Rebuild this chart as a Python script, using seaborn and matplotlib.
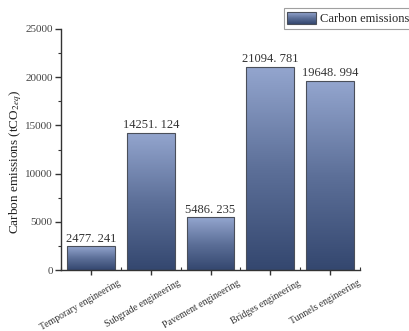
import numpy as np
import pandas as pd
import matplotlib
matplotlib.use("Agg")
import matplotlib.pyplot as plt
import seaborn as sns
from matplotlib.colors import LinearSegmentedColormap
from matplotlib.legend_handler import HandlerBase
from matplotlib.image import BboxImage
from matplotlib.transforms import Bbox, TransformedBbox, ScaledTranslation
from matplotlib.patches import Rectangle, Patch
from matplotlib.ticker import MultipleLocator

categories = ["Temporary engineering", "Subgrade engineering", "Pavement engineering",
              "Bridges engineering", "Tunnels engineering"]
emissions = [2477.241, 14251.124, 5486.235, 21094.781, 19648.994]
y_ticks = [0, 5000, 10000, 15000, 20000, 25000]
series_name = "Carbon emissions"

df = pd.DataFrame({"category": categories, "value": emissions})

sns.set_theme(style="ticks")
plt.rcParams["font.family"] = ["Liberation Serif", "DejaVu Serif"]
plt.rcParams["mathtext.fontset"] = "stix"

fig = plt.figure(figsize=(4.09, 3.31), dpi=100)
ax = fig.add_axes([61 / 409, 1 - 270 / 331, (360 - 61) / 409, (270 - 29) / 331])

sns.barplot(data=df, x="category", y="value", ax=ax, width=0.8,
            color="#5a6d9a", edgecolor="#4a4f5a", linewidth=0.8, saturation=1)

# vertical gradient, light at the top of each bar and dark at its base
grad_cmap = LinearSegmentedColormap.from_list("bar_grad", ["#34476f", "#5d7099", "#94a6cf"])
grad = np.linspace(0, 1, 256).reshape(-1, 1)

for patch, val in zip(ax.patches, emissions):
    x0, y0 = patch.get_x(), patch.get_y()
    w, h = patch.get_width(), patch.get_height()
    im = ax.imshow(grad, cmap=grad_cmap, origin="lower", aspect="auto",
                   extent=[x0, x0 + w, y0, y0 + h], interpolation="bicubic", zorder=patch.get_zorder())
    im.set_clip_path(patch)
    patch.set_facecolor("none")
    patch.set_zorder(patch.get_zorder() + 0.1)
    ax.text(x0 + w / 2, val + 150, f"{val:.3f}".replace(".", ". "),
            ha="center", va="bottom", fontsize=9, color="#333333")

ax.set_xlim(-0.5, 4.5)
ax.set_ylim(0, 25000)
ax.set_yticks(y_ticks)
ax.yaxis.set_minor_locator(MultipleLocator(2500))
ax.set_xticks(range(len(categories)))
ax.set_xticks(np.arange(-0.5, len(categories), 1.0), minor=True)

for s in ["top", "right"]:
    ax.spines[s].set_visible(False)
for s in ["left", "bottom"]:
    ax.spines[s].set_color("#333333")
    ax.spines[s].set_linewidth(1.0)

ax.tick_params(axis="y", which="major", length=4, width=1, color="#333333",
               labelsize=8, labelcolor="#444444", pad=2)
ax.tick_params(axis="y", which="minor", length=2.5, width=0.8, color="#333333")
ax.tick_params(axis="x", which="major", length=3.5, width=1, color="#333333")
ax.tick_params(axis="x", which="minor", length=2.5, width=0.8, color="#333333", direction="in")

ax.set_xticklabels(categories, rotation=30, ha="right", va="top",
                   rotation_mode="anchor", fontsize=7, color="#333333")
shift = ScaledTranslation(27 / 100, 1 / 100, fig.dpi_scale_trans)
for lbl in ax.get_xticklabels():
    lbl.set_transform(lbl.get_transform() + shift)

ax.set_xlabel("")
ax.set_ylabel("Carbon emissions (tCO$_{2eq}$)", fontsize=9.5, color="#222222")
ax.yaxis.set_label_coords((24 - 61) / (360 - 61), 0.45)


class GradientHandler(HandlerBase):
    def create_artists(self, legend, orig_handle, xdescent, ydescent,
                       width, height, fontsize, trans):
        bb = Bbox.from_bounds(-xdescent, -ydescent, width, height)
        img = BboxImage(TransformedBbox(bb, trans), cmap=grad_cmap,
                        interpolation="bicubic", origin="lower")
        img.set_data(np.linspace(0.15, 0.85, 64).reshape(-1, 1) * np.ones((1, 4)))
        frame = Rectangle((-xdescent, -ydescent), width, height, fill=False,
                          edgecolor="#4a4f5a", linewidth=0.8, transform=trans)
        return [img, frame]


handle = Patch(facecolor="#5a6d9a", label=series_name)
leg = fig.legend(handles=[handle], labels=[series_name], loc="upper right",
                 bbox_to_anchor=(1.01, 0.975), bbox_transform=fig.transFigure,
                 borderaxespad=0, fontsize=9, frameon=True, fancybox=False,
                 edgecolor="#888888", handlelength=2.3, handleheight=1.1,
                 borderpad=0.3, handletextpad=0.3,
                 handler_map={Patch: GradientHandler()})
leg.get_frame().set_linewidth(0.8)

fig.savefig("out.png", dpi=100)
